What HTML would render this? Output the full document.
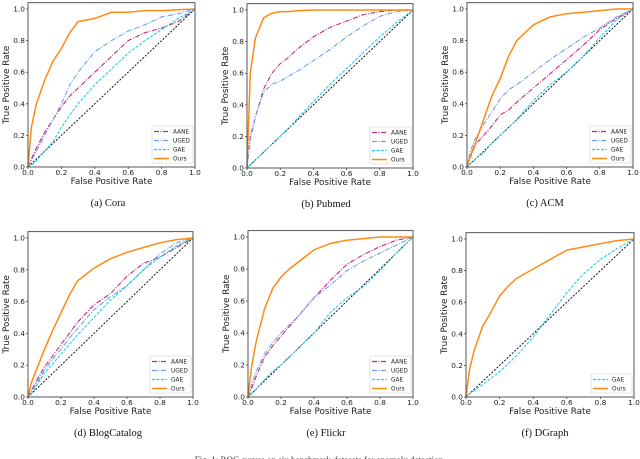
<!DOCTYPE html>
<html><head><meta charset="utf-8">
<style>
html,body{margin:0;padding:0;background:#fff;}
svg{display:block;}
text{font-family:"DejaVu Sans","Liberation Sans",sans-serif;}
.cap{font-family:"Liberation Serif",serif;}
</style></head>
<body>
<svg id="fig" width="640" height="459" viewBox="0 0 640 459" xmlns="http://www.w3.org/2000/svg"></svg>
<script>
const fpr = [0,0.02,0.05,0.1,0.15,0.2,0.25,0.3,0.4,0.5,0.6,0.7,0.8,0.9,1.0];
const xTicks = [0,0.2,0.4,0.6,0.8,1.0];
const yTicks = [0,0.2,0.4,0.6,0.8,1.0];
const coraOurs = [0,.25,.4,.55,.67,.75,.85,.92,.94,.98,.98,.99,.99,.995,1];
const coraAANE = [0,.05,.12,.22,.3,.38,.45,.5,.6,.7,.8,.85,.88,.92,1];
const coraUGED = [0,.04,.1,.2,.3,.4,.52,.6,.73,.8,.86,.9,.95,.97,1];
const coraGAE  = [0,.01,.04,.1,.16,.25,.33,.4,.52,.62,.72,.8,.87,.94,1];
const pubOurs = [0,.6,.82,.95,.98,.99,.99,.995,1,1,1,1,1,1,1];
const pubAANE = [0,.2,.32,.5,.6,.66,.7,.75,.83,.89,.93,.97,.99,1,1];
const pubUGED = [0,.18,.32,.48,.53,.55,.58,.61,.68,.75,.83,.9,.96,.99,1];
const pubGAE  = [0,.02,.05,.1,.15,.2,.25,.31,.42,.53,.63,.73,.83,.92,1];
const acmOurs = [0,.07,.15,.3,.45,.56,.7,.8,.9,.95,.97,.98,.99,1,1];
const acmAANE = [0,.06,.14,.2,.26,.33,.36,.41,.5,.59,.68,.77,.87,.94,1];
const acmUGED = [0,.1,.18,.27,.35,.43,.49,.52,.6,.68,.75,.82,.88,.95,1];
const acmGAE  = [0,.02,.05,.09,.15,.2,.25,.3,.42,.52,.6,.7,.82,.93,1];
const blogOurs = [0,.09,.17,.3,.42,.53,.64,.73,.81,.87,.91,.94,.97,.99,1];
const blogAANE = [0,.04,.1,.19,.26,.33,.4,.47,.58,.65,.76,.84,.88,.94,1];
const blogUGED = [0,.03,.08,.17,.24,.3,.37,.43,.55,.63,.7,.8,.9,.97,1];
const blogGAE  = [0,.02,.07,.15,.21,.27,.33,.39,.5,.61,.7,.8,.88,.95,1];
const flickrOurs = [0,.18,.35,.55,.68,.75,.8,.84,.92,.96,.98,.99,1,1,1];
const flickrAANE = [0,.05,.13,.25,.32,.38,.44,.5,.62,.73,.83,.89,.94,.98,1];
const flickrUGED = [0,.07,.16,.27,.34,.4,.45,.5,.62,.7,.79,.85,.9,.95,1];
const flickrGAE  = [0,.02,.05,.11,.16,.2,.25,.3,.4,.53,.62,.69,.79,.9,1];
const dgOurs = [0,.17,.3,.45,.54,.64,.7,.75,.81,.87,.93,.95,.97,.99,1];
const dgGAE  = [0,.02,.04,.08,.12,.16,.21,.26,.38,.52,.66,.78,.87,.94,1];

const NS="http://www.w3.org/2000/svg";
const fig=document.getElementById('fig');
function mk(tag,attrs,parent){const e=document.createElementNS(NS,tag);for(const k in attrs)e.setAttribute(k,attrs[k]);(parent||fig).appendChild(e);return e;}

const styles={
 AANE:{c:'#c42a78',d:'5,1.5,1,1.5'},
 UGED:{c:'#6f9ff0',d:'5,1.5,1,1.5'},
 GAE:{c:'#22cfe0',d:'3,1.5'},
 Ours:{c:'#ff8a12',d:''}
};

const panels=[
 {id:'cora',cap:'(a)  Cora',x0:28,x1:195,y0:167,y1:9,cx:108,series:{AANE:coraAANE,UGED:coraUGED,GAE:coraGAE,Ours:coraOurs}},
 {id:'pubmed',cap:'(b)  Pubmed',x0:247,x1:413,y0:168,y1:10,cx:326,series:{AANE:pubAANE,UGED:pubUGED,GAE:pubGAE,Ours:pubOurs}},
 {id:'acm',cap:'(c)  ACM',x0:467,x1:633,y0:167,y1:9,cx:545,series:{AANE:acmAANE,UGED:acmUGED,GAE:acmGAE,Ours:acmOurs}},
 {id:'blogcatalog',cap:'(d)  BlogCatalog',x0:28,x1:193,y0:397,y1:238,cx:108,series:{AANE:blogAANE,UGED:blogUGED,GAE:blogGAE,Ours:blogOurs}},
 {id:'flickr',cap:'(e)  Flickr',x0:248,x1:413,y0:397,y1:237,cx:326,series:{AANE:flickrAANE,UGED:flickrUGED,GAE:flickrGAE,Ours:flickrOurs}},
 {id:'dgraph',cap:'(f)  DGraph',x0:466,x1:634,y0:397,y1:239,cx:545,series:{GAE:dgGAE,Ours:dgOurs}}
];

panels.forEach(p=>{
 const g=mk('g',{});
 
 
 const sx=v=>p.x0+v*(p.x1-p.x0);
 const sy=v=>p.y0-v*(p.y0-p.y1);
 const top=sy(1.04);
 const diag=mk('line',{x1:sx(0),y1:sy(0),x2:sx(1),y2:sy(1),stroke:'#000','stroke-width':0.9,'stroke-dasharray':'2,1.5'},g);
 
 
 Object.keys(p.series).forEach(name=>{
  const vals=p.series[name];
  const pts=fpr.map((f,i)=>sx(f).toFixed(1)+','+sy(vals[i]).toFixed(1)).join(' ');
  const pl=mk('polyline',{points:pts,fill:'none',stroke:styles[name].c,'stroke-width':name==='Ours'?1.5:1.1,'stroke-dasharray':styles[name].d,'stroke-linejoin':'round'},g);
  
  
 });
 const fr=mk('rect',{x:p.x0,y:top,width:p.x1-p.x0,height:p.y0-top,fill:'none',stroke:'#444','stroke-width':0.9},g);
 
 
 xTicks.forEach(t=>{
  mk('line',{x1:sx(t),y1:p.y0,x2:sx(t),y2:p.y0+2,stroke:'#333','stroke-width':0.7},g);
  const tx=mk('text',{x:sx(t),y:p.y0+8,'font-size':7.4,'text-anchor':'middle',fill:'#222'},g);
  tx.textContent=t.toFixed(1);
  
  
 });
 yTicks.forEach(t=>{
  mk('line',{x1:p.x0-2,y1:sy(t),x2:p.x0,y2:sy(t),stroke:'#333','stroke-width':0.7},g);
  const ty=mk('text',{x:p.x0-3,y:sy(t)+2.5,'font-size':7.4,'text-anchor':'end',fill:'#222'},g);
  ty.textContent=t.toFixed(1);
  
  
 });
 const xl=mk('text',{x:(p.x0+p.x1)/2,y:p.y0+17,'font-size':8.8,'text-anchor':'middle',fill:'#222'},g);
 xl.textContent='False Positive Rate';
 
 
 const yx=p.x0-19, yy=(p.y0+top)/2;
 const yl=mk('text',{x:yx,y:yy,'font-size':8.8,'text-anchor':'middle',fill:'#222',transform:'rotate(-90 '+yx+' '+yy+')'},g);
 yl.textContent='True Positive Rate';
 
 
 const cp=mk('text',{x:p.cx,y:p.y0+39,'font-size':10.5,'text-anchor':'middle',fill:'#111','class':'cap'},g);
 cp.textContent=p.cap;
 
 
 const names=Object.keys(p.series);
 const lh=names.length*9+1;
 const lx=p.x1-43, ly=p.y0-4-lh;
 const lg=mk('g',{},g);
 
 
 mk('rect',{x:lx,y:ly,width:41,height:lh,fill:'#fff',stroke:'#ccc','stroke-width':0.6,rx:1},lg);
 names.forEach((n,i)=>{
  const yy2=ly+5.5+i*9;
  const e=mk('g',{},lg);
  
  
  mk('line',{x1:lx+2,y1:yy2,x2:lx+17,y2:yy2,stroke:styles[n].c,'stroke-width':n==='Ours'?1.5:1.2,'stroke-dasharray':styles[n].d},e);
  const t=mk('text',{x:lx+21,y:yy2+2,'font-size':5.8,fill:'#222'},e);
  t.textContent=n;
 });
});
const fc=mk('text',{x:320,y:463,'font-size':9,'text-anchor':'middle',fill:'#333','class':'cap'});
fc.textContent='Fig. 1: ROC curves on six benchmark datasets for anomaly detection.';


</script>
</body></html>
